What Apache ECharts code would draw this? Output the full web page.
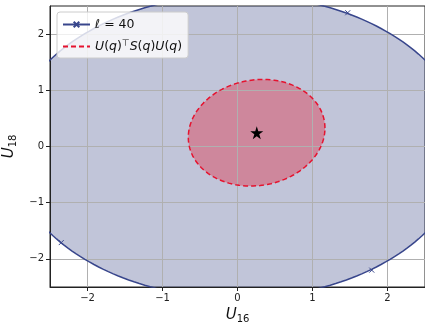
<!DOCTYPE html>
<html>
<head>
<meta charset="utf-8">
<script src="https://cdn.jsdelivr.net/npm/echarts@6/dist/echarts.min.js"></script>
<style>html,body{margin:0;padding:0;background:#fff}#c{width:425px;height:322px}</style>
</head>
<body>
<div id="c"></div>
<script>
// ---- data ----
var xTicks = [-2, -1, 0, 1, 2];
var yTicks = [-2, -1, 0, 1, 2];
var outerCenter = [0, 0];
var outerMatrix = [[9.25, 0], [0, 7.3]];        // l = 40 ellipse (shape matrix)
var outerMarkers = [[1.47, 2.38], [1.79, -2.2], [-2.35, -1.71]];
var innerCenter = [0.255, 0.245];
var innerMatrix = [[0.83, 0.075], [0.075, 0.90]]; // U(q)^T S(q) U(q)
var starPoint = [[0.257, 0.244]];

function outline(c, M) {
  var l11 = Math.sqrt(M[0][0]);
  var l21 = M[0][1] / l11;
  var l22 = Math.sqrt(M[1][1] - l21 * l21);
  var pts = [];
  var n = 240;
  for (var i = 0; i <= n; i++) {
    var t = 2 * Math.PI * i / n;
    var u = Math.cos(t), v = Math.sin(t);
    pts.push([c[0] + l11 * u, c[1] + l21 * u + l22 * v]);
  }
  return pts;
}
var outerPts = outline(outerCenter, outerMatrix);
var innerPts = outline(innerCenter, innerMatrix);

function fillSeries(pts, color, z) {
  return {
    type: 'custom', silent: true, clip: true, z: z,
    data: [0],
    renderItem: function (params, api) {
      var p = pts.map(function (d) { return api.coord(d); });
      return { type: 'polygon', shape: { points: p }, style: { fill: color, stroke: null } };
    }
  };
}

function fmt(v) { return v < 0 ? '\u2212' + Math.abs(v) : String(v); }

var font = 'DejaVu Sans';
var navy = '#38468c';
var red = '#e5132f';
var xSym = 'path://M0,0L10,10M10,0L0,10';
var nameRich = {
  i: { fontFamily: font, fontStyle: 'italic', fontSize: 15, color: '#111' },
  s: { fontFamily: font, fontSize: 10, color: '#111', verticalAlign: 'bottom', padding: [8, 0, 0, 0] }
};
var chart = echarts.init(document.getElementById('c'), null, { renderer: 'canvas' });
chart.setOption({
  animation: false,
  textStyle: { fontFamily: font },
  grid: { left: 50, right: 0, top: 6, bottom: 35, containLabel: false, outerBoundsMode: 'none',
          show: true, borderColor: '#222', borderWidth: 1, backgroundColor: 'transparent' },
  xAxis: {
    type: 'value', min: -2.5, max: 2.5, z: 1.5,
    name: '{i|U}{s|16}', nameLocation: 'middle', nameGap: 19,
    nameTextStyle: { rich: nameRich },
    axisLine: { show: true, onZero: false, lineStyle: { color: '#222' } },
    axisTick: { show: true, inside: false, length: 4, lineStyle: { color: '#222' }, customValues: xTicks },
    axisLabel: { customValues: xTicks, formatter: fmt, fontSize: 10, color: '#222', margin: 6, fontFamily: font },
    splitLine: { show: true, lineStyle: { color: '#b0b0b0', width: 1 } }
  },
  yAxis: {
    type: 'value', min: -2.5, max: 2.5, z: 1.5,
    name: '{i|U}{s|18}', nameLocation: 'middle', nameGap: 25, nameRotate: 90,
    nameTextStyle: { rich: nameRich },
    axisLine: { show: true, onZero: false, lineStyle: { color: '#222' } },
    axisTick: { show: true, inside: false, length: 4, lineStyle: { color: '#222' }, customValues: yTicks },
    axisLabel: { customValues: yTicks, formatter: fmt, fontSize: 10, color: '#222', margin: 6, fontFamily: font },
    splitLine: { show: true, lineStyle: { color: '#b0b0b0', width: 1 } }
  },
  legend: {
    data: [
      { name: '\u2113 = 40' },
      { name: 'Uq', itemStyle: { opacity: 0 } }
    ],
    orient: 'vertical', left: 57, top: 12, z: 10,
    itemWidth: 27, itemHeight: 7, itemGap: 8,
    padding: [6, 6, 5, 5],
    backgroundColor: 'rgba(255,255,255,0.8)', borderColor: '#cccccc', borderWidth: 1, borderRadius: 3,
    formatter: function (name) {
      if (name === 'Uq') return '{i|U}({i|q}){s|\u22a4}{i|S}({i|q}){i|U}({i|q})';
      return '{i|\u2113} = 40';
    },
    textStyle: {
      fontFamily: font, fontSize: 12.5, color: '#111',
      rich: {
        i: { fontFamily: font, fontStyle: 'italic', fontSize: 12.5, color: '#111' },
        s: { fontFamily: font, fontSize: 9, color: '#111', verticalAlign: 'top', padding: [0, 0, 6, 0] }
      }
    }
  },
  series: [
    fillSeries(outerPts, 'rgba(50,62,130,0.3)', 1),
    {
      name: '\u2113 = 40', type: 'line', data: outerPts, showSymbol: false,
      symbol: xSym, symbolSize: 5,
      itemStyle: { color: navy, borderColor: navy, borderWidth: 1 },
      lineStyle: { color: navy, width: 1.5 }, clip: true, z: 2, silent: true
    },
    {
      name: 'marks', type: 'scatter', data: outerMarkers,
      symbol: xSym, symbolSize: 5,
      itemStyle: { color: navy, borderColor: navy, borderWidth: 1, opacity: 1 }, z: 3, silent: true
    },
    fillSeries(innerPts, 'rgba(225,35,55,0.38)', 1),
    {
      name: 'Uq', type: 'line', data: innerPts, showSymbol: false, symbol: 'none',
      itemStyle: { color: red },
      lineStyle: { color: red, width: 1.5, type: [5, 3] }, z: 5, silent: true
    },
    {
      name: 'star', type: 'scatter', data: starPoint,
      symbol: 'path://M50,0L61.2,34.5L97.6,34.5L68.2,55.9L79.4,90.5L50,69.1L20.6,90.5L31.8,55.9L2.4,34.5L38.8,34.5Z',
      symbolSize: 13, itemStyle: { color: '#000', opacity: 1 }, z: 6, silent: true
    }
  ]
});
</script>
</body>
</html>
